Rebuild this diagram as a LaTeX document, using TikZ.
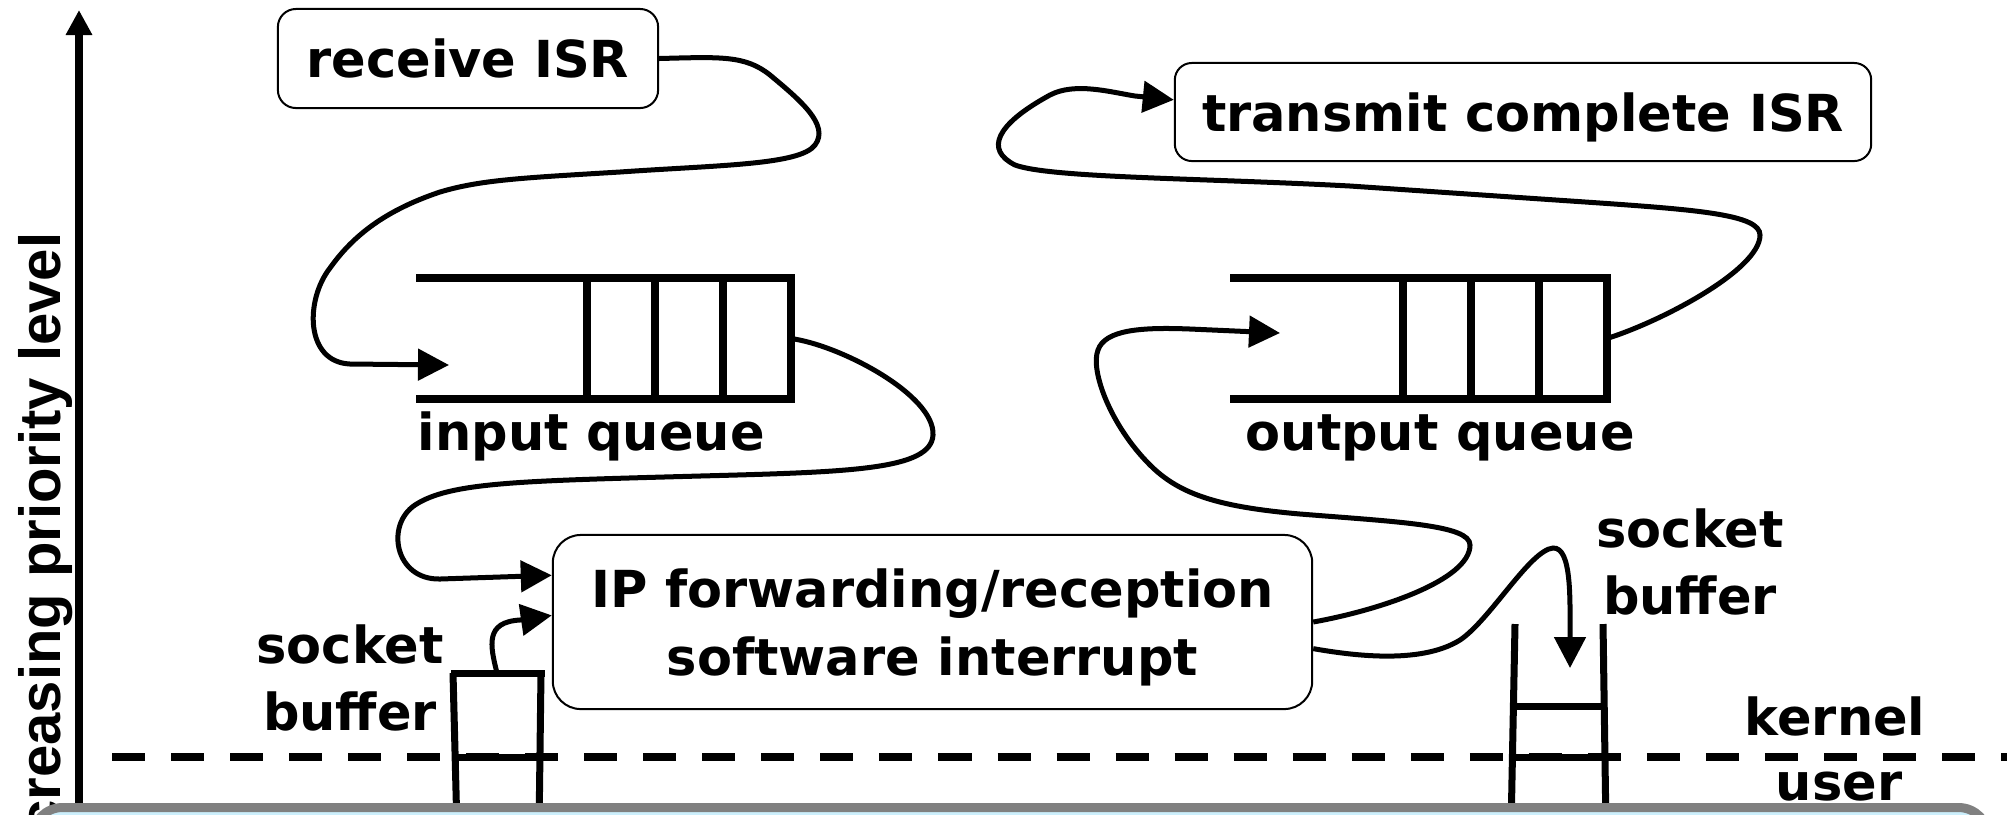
\documentclass[tikz,border=0pt]{standalone}
\usepackage{fontspec}
\setmainfont{DejaVu Sans}
\newfontfamily\axisfont{Liberation Sans}
\usetikzlibrary{arrows.meta}

\tikzset{
  isrbox/.style={draw, line width=0.02cm, rounded corners=0.18cm, align=center, inner sep=0pt,
    text depth=0pt, font=\bfseries\fontsize{14.5}{19.3}\selectfont},
  txt/.style={align=center, inner sep=0pt, font=\bfseries\fontsize{14.5}{19.3}\selectfont},
  qbox/.style={inner sep=0pt, minimum height=1.19cm},
  qline/.style={line width=0.08cm},
  bufline/.style={line width=0.07cm},
  flow/.style={line width=0.05cm, -{Triangle[length=0.31cm,width=0.31cm]}},
}

\begin{document}
\begin{tikzpicture}[x=0.01cm, y=-0.01cm]
  \useasboundingbox (0,0) rectangle (2007,814);
  \clip (0,0) rectangle (2007,814);

  % interrupt levels
  \node[isrbox, minimum width=3.8cm, minimum height=0.99cm] (recv) at (468,58.5) {receive ISR};
  \node[isrbox, minimum width=6.96cm, minimum height=0.98cm, rounded corners=0.17cm] (xmit) at (1523,112) {transmit complete ISR};
  \node[isrbox, minimum width=7.59cm, minimum height=1.74cm, rounded corners=0.28cm] (ip) at (932.5,622) {IP forwarding/reception\\software interrupt};

  % queues
  \node[qbox, minimum width=3.73cm] (inq) at (603.5,338.5) {};
  \node[qbox, minimum width=3.75cm] (outq) at (1418.5,338.5) {};
  \foreach \q in {inq,outq} {
    \draw[qline] (\q.north west) -- (\q.north east) -- (\q.south east) -- (\q.south west);
    \foreach \k in {1,2,3}
      \draw[qline] ([xshift=-\k*0.68cm]\q.north east) -- ([xshift=-\k*0.68cm]\q.south east);
  }
  \node[txt, anchor=base west] (inqlbl) at (417,450) {input queue};
  \node[txt, anchor=base west] (outqlbl) at (1245,450) {output queue};

  % socket buffers
  \coordinate (sbl) at (497,673);
  \draw[bufline] (451,673) -- (545,673);
  \draw[bufline] (453,673) -- (457,830);
  \draw[bufline] (541,673) -- (539,830);
  \draw[bufline] (455,757) -- (540,757);
  \coordinate (sbr) at (1570,668);
  \draw[bufline] (1515,624) -- (1511,830);
  \draw[bufline] (1603,624) -- (1606,830);
  \draw[bufline] (1514,706) -- (1604,706);
  \draw[bufline] (1513,757) -- (1605,757);
  \node[txt] (sbllbl) at (350,678) {socket\\buffer};
  \node[txt] (sbrlbl) at (1690,562) {socket\\buffer};

  % kernel / user boundary
  \draw[line width=0.08cm, dash pattern=on 0.33cm off 0.26cm] (112,757) -- (2007,757);
  \node[txt, anchor=base] (kern) at (1835,735) {kernel};
  \node[txt, anchor=base] (usr) at (1839,800) {user};

  % priority axis
  \coordinate (axbot) at (79,830);
  \coordinate (axtop) at (79,10);
  \draw[line width=0.07cm, -{Triangle[length=0.25cm,width=0.25cm]}] (axbot) -- (axtop);
  \node[rotate=90, anchor=base east, inner sep=0pt, font=\axisfont\bfseries\fontsize{16.5}{20}\selectfont] (prio) at (60,232) {increasing priority level};

  % packet flow
  \coordinate (inqin) at (449,365);
  \coordinate (outqin) at (1280,333);
  \draw[flow] (recv.east) .. controls (720,57) and (745,55) .. (770,75)
    .. controls (800,100) and (830,125) .. (815,145)
    .. controls (800,165) and (720,165) .. (620,172)
    .. controls (520,178) and (480,180) .. (440,192)
    .. controls (380,212) and (350,240) .. (330,268)
    .. controls (305,300) and (305,362) .. (350,364) -- (inqin);
  \draw[flow] (inq.east) .. controls (840,345) and (935,395) .. (933,435)
    .. controls (931,470) and (850,472) .. (700,476)
    .. controls (520,481) and (450,482) .. (415,505)
    .. controls (385,525) and (395,580) .. (440,579) -- (ip.173);
  \draw[flow] (sbl) .. controls (490,645) and (485,622) .. (520,620) -- (ip.179.4);
  \draw[flow] (ip.0.6) .. controls (1380,610) and (1470,580) .. (1470,545)
    .. controls (1470,525) and (1400,522) .. (1300,514)
    .. controls (1220,507) and (1180,495) .. (1150,465)
    .. controls (1110,425) and (1090,370) .. (1098,350)
    .. controls (1105,330) and (1140,327) .. (1190,329) -- (outqin);
  \draw[flow] (outq.east) .. controls (1660,322) and (1760,270) .. (1760,235)
    .. controls (1760,215) and (1700,210) .. (1600,203)
    -- (1350,186)
    .. controls (1200,178) and (1050,178) .. (1015,165)
    .. controls (985,150) and (995,125) .. (1050,95)
    .. controls (1075,82) and (1110,92) .. (1135,96) -- (xmit.178);
  \draw[flow] (ip.-4) .. controls (1350,655) and (1420,665) .. (1460,640)
    .. controls (1490,620) and (1530,550) .. (1553,548)
    .. controls (1572,547) and (1570,600) .. (sbr);

  % user space
  \draw[draw=gray, fill=cyan!20, line width=0.09cm, rounded corners=0.3cm] (32.5,807.5) rectangle (1988.5,900);
\end{tikzpicture}
\end{document}
